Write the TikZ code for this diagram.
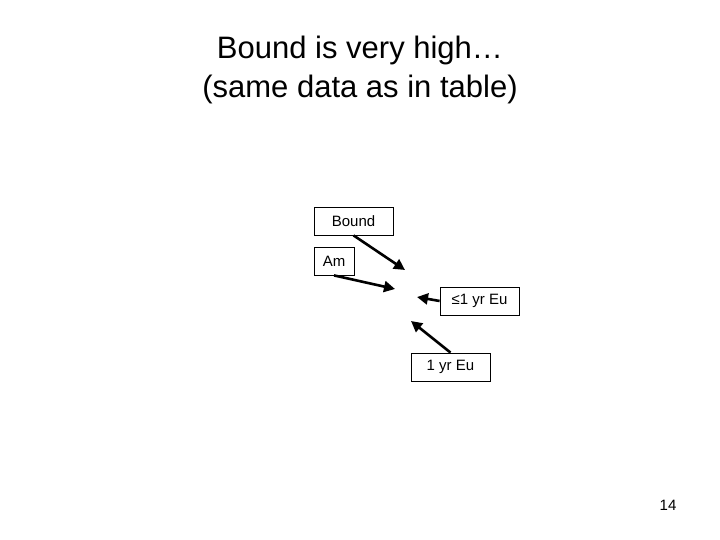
\documentclass[tikz,border=0pt]{standalone}
\usepackage{fontspec}
\setmainfont{Liberation Sans}
\usetikzlibrary{arrows.meta}
\begin{document}
\begin{tikzpicture}[x=1pt,y=-1pt,
  box/.style={draw,line width=0.8pt,inner sep=0pt,minimum height=28pt,font=\fontsize{15}{18}\selectfont},
  arr/.style={line width=2.6pt,-{Triangle[length=11pt,width=11pt]}}]
\useasboundingbox[fill=white] (0,0) rectangle (720,540);
\node[align=center,font=\fontsize{31}{39}\selectfont] (title) at (360,70) {Bound is very high…\\(same data as in table)};
\node[box,minimum width=79pt] (b) at (353.5,221) {Bound};
\node[box,minimum width=40pt] (am) at (334,261) {Am};
\node[box,minimum width=79pt] (le) at (479.5,301) {≤1 yr Eu};
\node[box,minimum width=79pt] (eu) at (450.5,367) {1 yr Eu};
\coordinate (p1) at (405,270);
\coordinate (p2) at (395,289);
\coordinate (p3) at (417,297);
\coordinate (p4) at (411,321);
\draw[arr] (b.south) -- (p1);
\draw[arr] (am.south) -- (p2);
\draw[arr] (le.west) -- (p3);
\draw[arr] (eu.north) -- (p4);
\node[font=\fontsize{15}{18}\selectfont] (pg) at (668,505) {14};
\end{tikzpicture}
\end{document}
